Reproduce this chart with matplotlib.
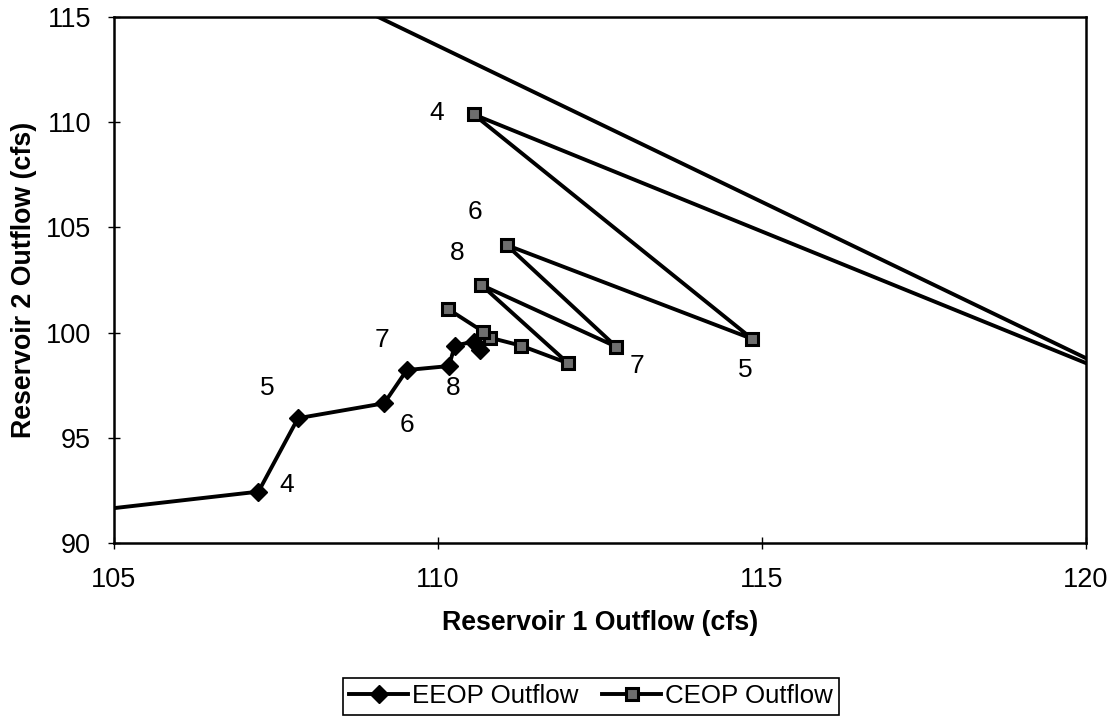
import numpy as np
import matplotlib
matplotlib.use('Agg')
import matplotlib.pyplot as plt

plt.rcParams['font.family'] = ['Liberation Sans', 'DejaVu Sans']

# EEOP path (first point lies off the plotted range)
eeop_x = [100.0, 107.23, 107.84, 109.17, 109.52, 110.17, 110.26, 110.55, 110.65]
eeop_y = [89.90, 92.44, 95.93, 96.64, 98.22, 98.41, 99.38, 99.57, 99.17]

# CEOP path (first two points lie off the plotted range)
ceop_x = [108.0, 121.0, 110.55, 114.85, 111.06, 112.75, 110.67, 112.01, 111.28, 110.80, 110.70, 110.16]
ceop_y = [116.6, 97.3, 110.37, 99.70, 104.16, 99.33, 102.26, 98.54, 99.38, 99.76, 100.04, 101.11]

# iteration labels
eeop_lab = ['4', '5', '6', '7', '8']
eeop_lab_x = [107.67, 107.37, 109.52, 109.13, 110.24]
eeop_lab_y = [92.76, 97.35, 95.61, 99.65, 97.35]

ceop_lab = ['4', '5', '6', '7', '8']
ceop_lab_x = [109.98, 114.75, 110.57, 113.07, 110.30]
ceop_lab_y = [110.42, 98.22, 105.75, 98.41, 103.80]

fig = plt.figure(figsize=(11.13, 7.17), dpi=100)
ax = fig.add_axes([0.1024, 0.2427, 0.8733, 0.7336])

ax.plot(eeop_x, eeop_y, color='black', linewidth=2.8, marker='D', markersize=9,
        markerfacecolor='black', markeredgecolor='black', label='EEOP Outflow')
ax.plot(ceop_x, ceop_y, color='black', linewidth=2.8, marker='s', markersize=9,
        markerfacecolor='#6e6e6e', markeredgecolor='black', markeredgewidth=2.2,
        label='CEOP Outflow')

for t, x, y in zip(eeop_lab, eeop_lab_x, eeop_lab_y):
    ax.text(x, y, t, fontsize=19, ha='center', va='center')
for t, x, y in zip(ceop_lab, ceop_lab_x, ceop_lab_y):
    ax.text(x, y, t, fontsize=19, ha='center', va='center')

ax.set_xlim(105, 120)
ax.set_ylim(90, 115)
ax.set_xticks([105, 110, 115, 120])
ax.set_yticks([90, 95, 100, 105, 110, 115])
ax.tick_params(axis='both', direction='inout', length=9, width=1, labelsize=19.5)
ax.tick_params(axis='x', pad=13)
ax.tick_params(axis='y', pad=12)
for s in ax.spines.values():
    s.set_linewidth(1.8)
    s.set_color('black')

ax.set_xlabel('Reservoir 1 Outflow (cfs)', fontsize=19.3, fontweight='bold')
ax.xaxis.set_label_coords(0.5, -0.128)
ax.set_ylabel('Reservoir 2 Outflow (cfs)', fontsize=19.3, fontweight='bold')
ax.yaxis.set_label_coords(-0.079, 0.5)

leg = fig.legend(loc='center', bbox_to_anchor=(0.531, 0.0286), ncol=2, fontsize=18.6,
                 frameon=True, fancybox=False, edgecolor='black', framealpha=1,
                 handlelength=2.3, handletextpad=0.15, columnspacing=0.9,
                 borderpad=0.25, borderaxespad=0)
leg.get_frame().set_linewidth(1.2)

fig.savefig('out.png', dpi=100)
